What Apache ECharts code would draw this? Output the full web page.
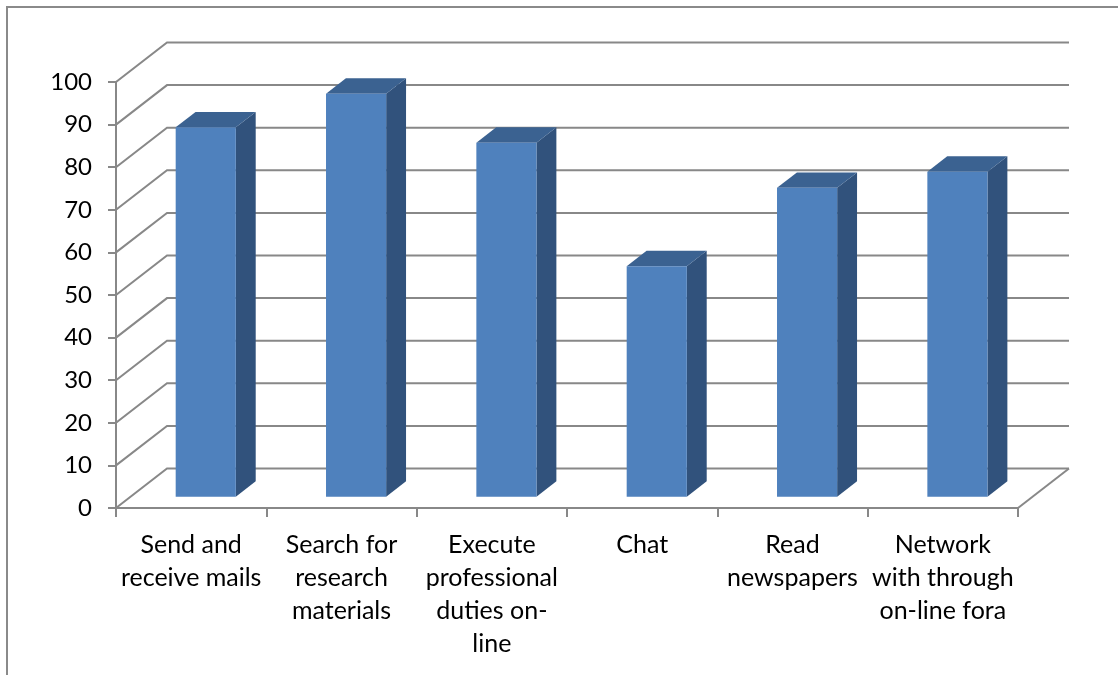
<!DOCTYPE html>
<html>
<head>
<meta charset="utf-8">
<script src="https://cdn.jsdelivr.net/npm/echarts@6/dist/echarts.min.js"></script>
<style>
  html, body { margin: 0; padding: 0; background: #ffffff; }
  #chart { width: 1118px; height: 675px; }
</style>
</head>
<body>
<div id="chart"></div>
<script>
// Internet activities (percent of respondents)
const categories = [
  'Send and\nreceive mails',
  'Search for\nresearch\nmaterials',
  'Execute\nprofessional\nduties on-\nline',
  'Chat',
  'Read\nnewspapers',
  'Network\nwith through\non-line fora'
];
const values = [86.7, 94.6, 83.1, 54.1, 72.5, 76.3];
const yTicks = [0, 10, 20, 30, 40, 50, 60, 70, 80, 90, 100];

// Oblique projection of the chart depth (pixels)
const DX = 51, DY = -39.5;
const BAR_FRONT = 0.286, BAR_BACK = 0.676;   // bar position inside the depth
const BAR_HALF = 0.2;                        // half bar width, share of a category

const GRID_COLOR = '#888888';
const FONT = 'Lato, "Open Sans", sans-serif';

// Back wall + side wall gridlines, floor edges
function renderWall(params, api) {
  const cs = params.coordSys;
  const x0 = cs.x, x1 = cs.x + cs.width;
  const v = api.value(1);
  const y = api.coord([0, v])[1];
  const children = [{
    type: 'polyline',
    shape: { points: [[x0, y], [x0 + DX, y + DY], [x1 + DX, y + DY]] },
    style: { stroke: GRID_COLOR, lineWidth: 2, fill: null }
  }];
  if (v === 0) {
    children.push({
      type: 'line',
      shape: { x1: x1, y1: y, x2: x1 + DX, y2: y + DY },
      style: { stroke: GRID_COLOR, lineWidth: 2 }
    });
  }
  return { type: 'group', children: children };
}

// 3D column: front, right side and top faces
function renderBar(params, api) {
  const i = api.value(0);
  const v = api.value(1);
  const top = api.coord([i, v]);
  const base = api.coord([i, 0]);
  const band = api.size([1, 0])[0];
  const hw = band * BAR_HALF;
  const fx = BAR_FRONT * DX, fy = BAR_FRONT * DY;
  const bx = BAR_BACK * DX, by = BAR_BACK * DY;
  const L = top[0] - hw + fx, R = top[0] + hw + fx;
  const T = top[1] + fy, B = base[1] + fy;
  const ddx = bx - fx, ddy = by - fy;
  return {
    type: 'group',
    children: [
      { type: 'polygon',
        shape: { points: [[R, T], [R + ddx, T + ddy], [R + ddx, B + ddy], [R, B]] },
        style: { fill: '#31527C' } },
      { type: 'polygon',
        shape: { points: [[L, T], [L + ddx, T + ddy], [R + ddx, T + ddy], [R, T]] },
        style: { fill: '#3B6291' } },
      { type: 'rect',
        shape: { x: L, y: T, width: R - L, height: B - T },
        style: { fill: '#4F81BD' } }
    ]
  };
}

const chart = echarts.init(document.getElementById('chart'));
chart.setOption({
  animation: false,
  backgroundColor: '#ffffff',
  graphic: [{
    type: 'rect',
    shape: { x: 7, y: 7, width: 1300, height: 900 },
    style: { fill: null, stroke: '#8a8a8a', lineWidth: 2 },
    silent: true
  }],
  grid: { left: 116, right: 100, top: 82, bottom: 167 },
  xAxis: {
    type: 'category',
    data: categories,
    boundaryGap: true,
    axisLine: { show: true, lineStyle: { color: GRID_COLOR, width: 2 } },
    axisTick: { show: true, length: 9, interval: 0, lineStyle: { color: GRID_COLOR, width: 2 } },
    axisLabel: {
      interval: 0, margin: 20, color: '#000000',
      fontFamily: FONT, fontSize: 25, lineHeight: 33, align: 'center'
    },
    splitLine: { show: false }
  },
  yAxis: {
    type: 'value',
    min: 0, max: 100, interval: 10,
    axisLine: { show: true, lineStyle: { color: GRID_COLOR, width: 2 } },
    axisTick: { show: true, length: 8, lineStyle: { color: GRID_COLOR, width: 2 } },
    axisLabel: { margin: 24, color: '#000000', fontFamily: FONT, fontSize: 24 },
    splitLine: { show: false }
  },
  series: [
    {
      type: 'custom',
      z: 1,
      silent: true,
      renderItem: renderWall,
      data: yTicks.map(function (t) { return [0, t]; })
    },
    {
      type: 'custom',
      z: 3,
      renderItem: renderBar,
      data: values.map(function (v, i) { return [i, v]; })
    }
  ]
});
</script>
</body>
</html>
